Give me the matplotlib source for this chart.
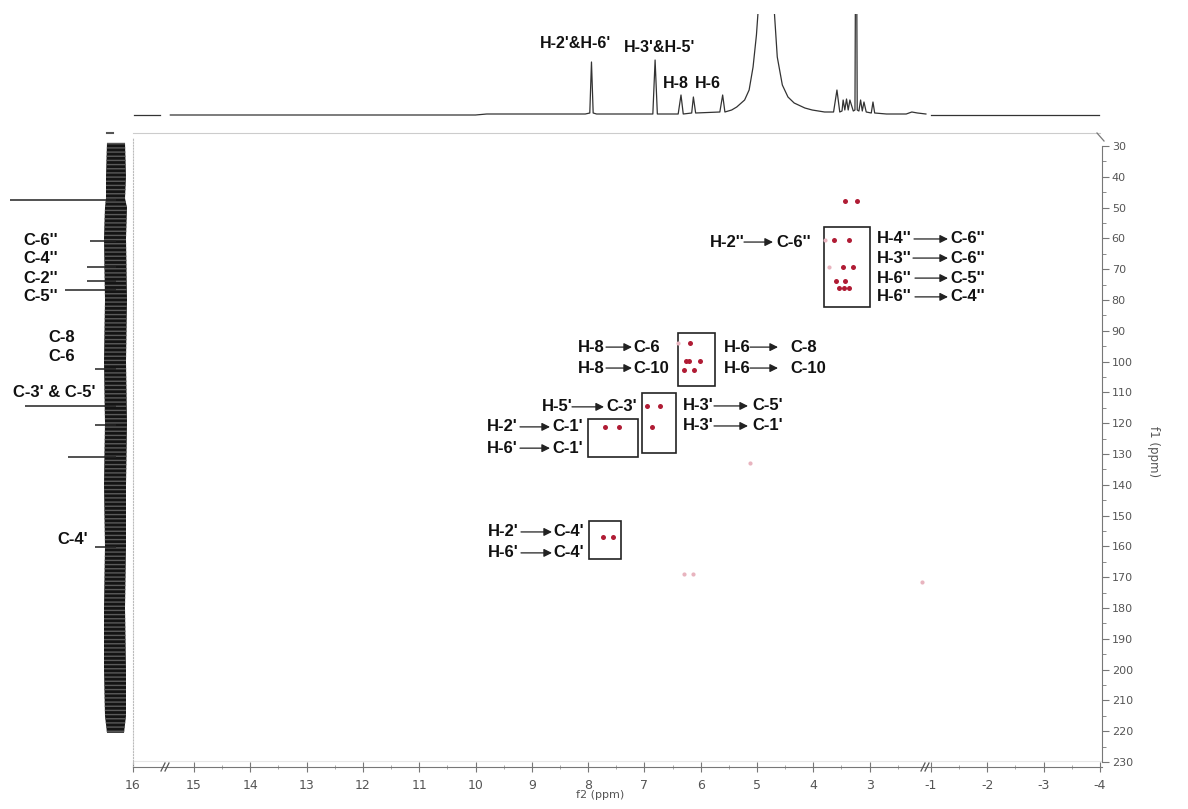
import numpy as np
import matplotlib.pyplot as plt
from matplotlib.lines import Line2D
from matplotlib.patches import Rectangle

W, H = 1188, 809

# 1H trace on top (f2 ppm, height above baseline)
h1_a_ppm = [15.98, 15.52]
h1_a_int = [0, 0]
h1_b_ppm = [15.42, 10.0, 9.8, 8.05, 7.97, 7.94, 7.91, 7.85, 6.85, 6.81, 6.77, 6.40, 6.35, 6.31,
            6.16, 6.13, 6.09, 5.66, 5.61, 5.57, 5.45, 5.36, 5.22, 5.14, 5.07, 5.01, 4.96, 4.87,
            4.75, 4.70, 4.64, 4.55, 4.45, 4.34, 4.15, 4.02, 3.80, 3.64, 3.58, 3.53, 3.49, 3.47,
            3.44, 3.41, 3.38, 3.35, 3.29, 3.26, 3.24, 3.22, 3.19, 3.16, 3.13, 3.10, 3.06, 2.97,
            2.94, 2.91, 2.70, 2.35, 2.25, 2.15, 2.00]
h1_b_int = [0, 0, 1, 1, 2, 53, 2, 1, 1, 55, 1, 1, 20, 1,
            2, 18, 2, 3, 20, 3, 5, 8, 15, 25, 48, 80, 120, 300,
            200, 110, 58, 30, 18, 12, 7, 5, 3, 3, 25, 3, 4, 15,
            5, 16, 5, 15, 4, 5, 300, 5, 4, 15, 4, 13, 3, 2,
            13, 2, 1, 1, 3, 2, 1]
h1_c_ppm = [-1.0, -3.98]
h1_c_int = [0.5, 0.5]

# 13C trace on the left (f1 ppm, peak length)
c13_ppm = [47.7, 61.0, 69.3, 74.0, 76.8, 102.4, 114.4, 120.6, 131.0, 160.2]
c13_int = [106, 26, 29, 29, 51, 21, 91, 21, 48, 21]
noise_f1 = [29, 40, 47, 50, 60, 80, 100, 120, 140, 160, 180, 200, 215, 220.5]
noise_lo = [107, 106, 106, 105, 104, 105, 104, 105, 104, 105, 104, 104, 105, 107]
noise_hi = [125, 126, 125, 127, 126, 127, 126, 127, 126, 126, 125, 126, 126, 124]

# HMBC cross peaks (f2, f1)
peak_f2 = [3.43, 3.22, 3.63, 3.37, 3.47, 3.29, 3.60, 3.43, 3.54, 3.45, 3.37,
           6.19, 6.26, 6.21, 6.01, 6.29, 6.12, 6.96, 6.73, 6.87, 7.70, 7.46, 7.73, 7.56]
peak_f1 = [47.9, 47.9, 60.5, 60.5, 69.2, 69.2, 73.8, 73.8, 76.2, 76.2, 76.2,
           94.0, 99.7, 99.7, 99.7, 102.7, 102.7, 114.4, 114.4, 121.1, 121.2, 121.2, 156.8, 156.8]
weak_f2 = [3.79, 3.72, 6.40, 6.30, 6.13, 5.13, 2.07]
weak_f1 = [60.5, 69.2, 94.0, 169.0, 169.0, 133.0, 171.5]

# boxes (f2 left, f2 right, f1 top, f1 bottom)
box_f2 = [(3.81, 2.99), (6.41, 5.75), (7.05, 6.43), (8.01, 7.11), (7.98, 7.42)]
box_f1 = [(56.3, 82.3), (90.8, 107.9), (110.3, 129.8), (118.6, 130.9), (151.7, 164.2)]

f2_major = [16, 15, 14, 13, 12, 11, 10, 9, 8, 7, 6, 5, 4, 3, -1, -2, -3, -4]
f2_minor = [14.5, 13.5, 12.5, 11.5, 10.5, 9.5, 8.5, 7.5, 6.5, 5.5, 4.5, 3.5, 2.5,
            -1.5, -2.5, -3.5]
f1_major = list(range(30, 240, 10))
f1_minor = list(range(35, 230, 10))

# assignment rows: H label, C label, x of H, arrow start, arrow end, x of C, f1
links = [
    ("H-2''", "C-6''", 710, 744, 773, 776, 61.2),
    ("H-4''", "C-6''", 877, 914, 948, 950, 60.2),
    ("H-3''", "C-6''", 877, 913, 948, 950, 66.4),
    ("H-6''", "C-5''", 877, 915, 948, 950, 72.9),
    ("H-6''", "C-4''", 877, 915, 948, 950, 79.0),
    ("H-8", "C-6", 578, 606, 632, 633, 95.3),
    ("H-8", "C-10", 578, 606, 632, 633, 102.1),
    ("H-6", "C-8", 724, 750, 778, 790, 95.3),
    ("H-6", "C-10", 724, 750, 778, 790, 102.1),
    ("H-5'", "C-3'", 542, 572, 604, 606, 114.7),
    ("H-2'", "C-1'", 487, 520, 550, 552, 121.2),
    ("H-6'", "C-1'", 487, 520, 550, 552, 128.1),
    ("H-3'", "C-5'", 683, 714, 748, 752, 114.4),
    ("H-3'", "C-1'", 683, 714, 748, 752, 120.9),
    ("H-2'", "C-4'", 488, 521, 552, 553, 155.3),
    ("H-6'", "C-4'", 488, 521, 552, 553, 162.1),
]
c_labels = [("C-6''", 23, 60.8), ("C-4''", 23, 66.7), ("C-2''", 23, 72.9), ("C-5''", 23, 79.0),
            ("C-8", 48, 92.3), ("C-6", 48, 98.5), ("C-3' & C-5'", 13, 109.9), ("C-4'", 57, 157.9)]
h_labels = [("H-2'&H-6'", 576, 72), ("H-3'&H-5'", 660, 68), ("H-8", 676, 32), ("H-6", 708, 32)]


def f2u(p):
    p = np.asarray(p, float)
    return np.where(p >= 15.5, 133 + (16 - p) * 56.3,
                    np.where(p >= 1.9, 194 + (15 - p) * 56.3, 931 + (-1 - p) * 56.3))


def rect(x0, y0, x1, y1):
    return [x0 / W, 1 - y1 / H, (x1 - x0) / W, (y1 - y0) / H]


def pxline(fig, x0, y0, x1, y1, **kw):
    fig.add_artist(Line2D([x0 / W, x1 / W], [1 - y0 / H, 1 - y1 / H], **kw))


bold = dict(family='Liberation Sans', fontweight='bold', fontsize=12, color='#111')

fig = plt.figure(figsize=(W / 100, H / 100), dpi=100)
ylims = (231.6, 27.1)

# ---- main 2D panel
ax = fig.add_axes(rect(133, 137, 1102, 767))
ax.set_xlim(133, 1102)
ax.set_ylim(*ylims)
for b, bb in zip(box_f2, box_f1):
    u0, u1 = f2u(b[0]), f2u(b[1])
    ax.add_patch(Rectangle((u0, bb[0]), u1 - u0, bb[1] - bb[0], fill=False,
                           ec='#222', lw=1.2))
ax.plot(f2u(weak_f2), weak_f1, 'o', ms=3, color='#e8b4bf', mec='none')
ax.plot(f2u(peak_f2), peak_f1, 'o', ms=3.6, color='#b01c35', mec='none')

for ht, ct, xh, xa0, xa1, xc, f1 in links:
    ax.text(xh, f1, ht, ha='left', va='center', **bold)
    ax.text(xc, f1, ct, ha='left', va='center', **bold)
    ax.annotate('', xy=(xa1, f1), xytext=(xa0, f1),
                arrowprops=dict(arrowstyle='-|>', color='#222', lw=0.9,
                                mutation_scale=12, shrinkA=0, shrinkB=0))

ax.spines['top'].set_visible(False)
ax.spines['left'].set_linestyle(':')
ax.spines['left'].set_color('#bbbbbb')
ax.spines['right'].set_bounds(30, 230)
ax.spines['right'].set_color('#777')
ax.spines['bottom'].set_color('#777')
ax.yaxis.tick_right()
ax.set_yticks(f1_major)
ax.set_yticks(f1_minor, minor=True)
ax.set_xticks(f2u(f2_major))
ax.set_xticklabels([str(v) for v in f2_major])
ax.set_xticks(f2u(f2_minor), minor=True)
ax.tick_params(axis='y', which='major', length=5, color='#777', labelsize=8,
               labelcolor='#555', pad=2)
ax.tick_params(axis='y', which='minor', length=3, color='#777')
ax.tick_params(axis='x', which='major', direction='inout', length=7, color='#777',
               labelsize=9, labelcolor='#555', pad=5)
ax.tick_params(axis='x', which='minor', direction='inout', length=3, color='#999')
ax.set_xlabel('f2 (ppm)', fontsize=8, color='#555')
ax.xaxis.set_label_coords((600 - 133) / 969, -0.037)
ax.set_ylabel('f1 (ppm)', fontsize=8.5, color='#555', rotation=270)
ax.yaxis.set_label_position('right')
ax.yaxis.set_label_coords(1 + (1160 - 1102) / 969, 0.5)
ax.axhline(229.8, color='#e6e6e6', lw=0.8)

# ---- 1H projection on top
axt = fig.add_axes(rect(133, 14, 1102, 127))
axt.set_xlim(133, 1102)
axt.set_ylim(-12, 101)
for pp, ii in ((h1_a_ppm, h1_a_int), (h1_b_ppm, h1_b_int), (h1_c_ppm, h1_c_int)):
    axt.plot(f2u(pp), ii, color='#333', lw=0.9)
for s, x, y in h_labels:
    axt.text(x, y, s, ha='center', va='center', **dict(bold, fontsize=11.5))
axt.axis('off')

# ---- 13C projection on the left
axl = fig.add_axes(rect(0, 137, 133, 767))
axl.set_xlim(0, 133)
axl.set_ylim(*ylims)
axl.fill_betweenx(noise_f1, noise_lo, noise_hi, facecolor='#141414',
                  edgecolor='#5a5a5a', hatch='----', linewidth=0)
axl.hlines(c13_ppm, 116 - np.array(c13_int), 116, color='#222', lw=1.1)
for s, x, y in c_labels:
    axl.text(x, y, s, ha='left', va='center', **bold)
axl.axis('off')

# frame decorations and axis breaks
pxline(fig, 133, 133, 1100, 133, color='#cccccc', lw=0.8)
pxline(fig, 107, 133, 113, 133, color='#555', lw=1.5)
for xb in (165, 925):
    pxline(fig, xb - 4, 771, xb, 763, color='#555', lw=0.9)
    pxline(fig, xb, 771, xb + 4, 763, color='#555', lw=0.9)
pxline(fig, 1097, 133, 1104, 141, color='#777', lw=0.9)

fig.savefig('out.png', dpi=100)
